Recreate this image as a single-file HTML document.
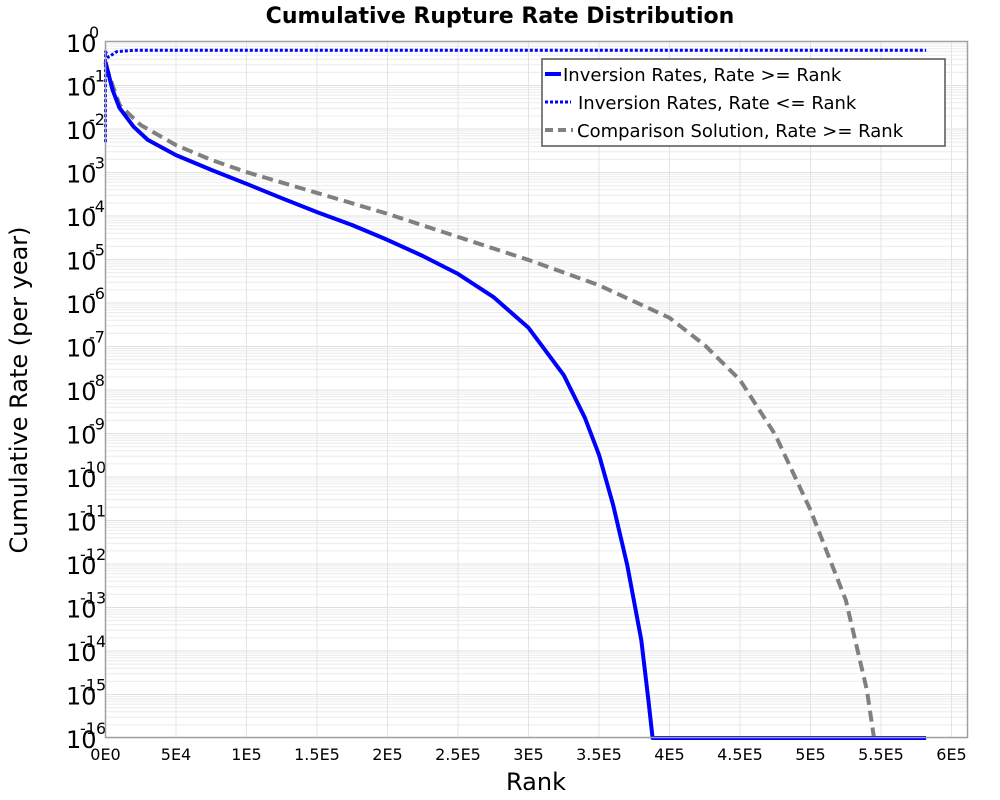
<!DOCTYPE html>
<html><head><meta charset="utf-8"><style>
body{margin:0;background:#fff;}
svg{display:block;font-family:"DejaVu Sans","Liberation Sans",sans-serif;}
</style></head><body>
<svg id="chart" width="1000" height="800" xmlns="http://www.w3.org/2000/svg">
<text x="500" y="23" text-anchor="middle" font-size="22" font-weight="bold">Cumulative Rupture Rate Distribution</text>
<text x="536" y="790" text-anchor="middle" font-size="24">Rank</text>
<text transform="translate(27,390) rotate(-90)" text-anchor="middle" font-size="24">Cumulative Rate (per year)</text>
<g id="grid"></g>
<g id="ticks"></g>
<g id="series"></g>
<rect x="105.5" y="41.5" width="862" height="696" fill="none" stroke="#a0a0a0" stroke-width="1.5"/>
<g>
<rect x="542" y="59" width="403" height="87" fill="#fff" stroke="#555" stroke-width="1.5"/>
<g>
<line x1="545" y1="74" x2="561" y2="74" stroke="#0000ff" stroke-width="4"/>
<text x="563" y="81" font-size="18">Inversion Rates, Rate &gt;= Rank</text></g>
<g>
<line x1="545" y1="102" x2="571" y2="102" stroke="#0000ff" stroke-width="3" stroke-dasharray="3,2"/>
<text x="578" y="109" font-size="18">Inversion Rates, Rate &lt;= Rank</text></g>
<g>
<line x1="545" y1="130" x2="573" y2="130" stroke="#808080" stroke-width="4" stroke-dasharray="8,5"/>
<text x="577" y="137" font-size="18">Comparison Solution, Rate &gt;= Rank</text></g>
</g>
</svg>
<script>
const xTickValues=[0,50000,100000,150000,200000,250000,300000,350000,400000,450000,500000,550000,600000];
const xTickLabels=["0E0","5E4","1E5","1.5E5","2E5","2.5E5","3E5","3.5E5","4E5","4.5E5","5E5","5.5E5","6E5"];
const yDecades=[0,-1,-2,-3,-4,-5,-6,-7,-8,-9,-10,-11,-12,-13,-14,-15,-16];
const invRanks=[0,5000,10000,20000,30000,50000,75000,100000,125000,150000,175000,200000,225000,250000,275000,300000,325000,340000,350000,360000,370000,380000,385000,388000,582000];
const invLogRate=[-0.46,-1.10,-1.52,-1.95,-2.25,-2.60,-2.94,-3.26,-3.59,-3.91,-4.21,-4.55,-4.92,-5.33,-5.86,-6.57,-7.66,-8.64,-9.49,-10.64,-12.02,-13.75,-15.13,-16,-16];
const leRanks=[0,0,2000,8000,20000,582000];
const leLogRate=[-2.3,-0.22,-0.35,-0.22,-0.19,-0.19];
const cmpRanks=[0,10000,25000,50000,75000,100000,150000,200000,250000,300000,350000,400000,425000,450000,475000,500000,525000,540000,545000];
const cmpLogRate=[-0.53,-1.45,-1.91,-2.37,-2.71,-2.99,-3.47,-3.95,-4.48,-5.01,-5.59,-6.34,-6.97,-7.77,-9.03,-10.76,-12.83,-14.90,-16];

const NS="http://www.w3.org/2000/svg";
const X0=105.5,XPX=70.5/50000,Y0=42,YPX=43.5;
const xs=v=>X0+v*XPX;
const ys=e=>Y0-e*YPX;
function mk(tag,attrs,parent){const el=document.createElementNS(NS,tag);for(const k in attrs)el.setAttribute(k,attrs[k]);parent.appendChild(el);return el;}
const grid=document.getElementById('grid'),ticks=document.getElementById('ticks'),series=document.getElementById('series');
// y minor grid
for(let d=0;d>-16;d--){for(let m=1;m<10;m++){const y=ys(d-1+Math.log10(m));
const l=mk('line',{x1:105.5,x2:967.5,y1:y,y2:y,stroke:m==1?'#e0e0e0':'#ececec','stroke-width':1},grid);

}}
xTickValues.forEach((v,i)=>{const x=xs(v);
const l=mk('line',{x1:x,x2:x,y1:42,y2:738,stroke:'#e4e4e4','stroke-width':1},grid);


const t=mk('text',{x:x,y:760,'text-anchor':'middle','font-size':16},ticks);
t.textContent=xTickLabels[i];

});
yDecades.forEach(d=>{const y=ys(d);
const t=mk('text',{x:66,y:y+10,'font-size':24},ticks);
t.textContent='10';


const s=mk('text',{x:d<=-10?80:89,y:y-4,'font-size':16},ticks);
s.textContent=String(d);

});
function path(rk,lr,style,name){let d='';rk.forEach((r,i)=>{d+=(i?'L':'M')+xs(r).toFixed(1)+','+ys(lr[i]).toFixed(1);});
const p=mk('path',Object.assign({d:d,fill:'none','stroke-linejoin':'round'},style),series);

}
path(cmpRanks,cmpLogRate,{stroke:'#808080','stroke-width':4,'stroke-dasharray':'11,6'},'comparison-line');
path(invRanks,invLogRate,{stroke:'#0000ff','stroke-width':4},'inversion-ge-line');
path(leRanks,leLogRate,{stroke:'#0000ff','stroke-width':3,'stroke-dasharray':'3,2'},'inversion-le-line');
</script>
</body></html>
